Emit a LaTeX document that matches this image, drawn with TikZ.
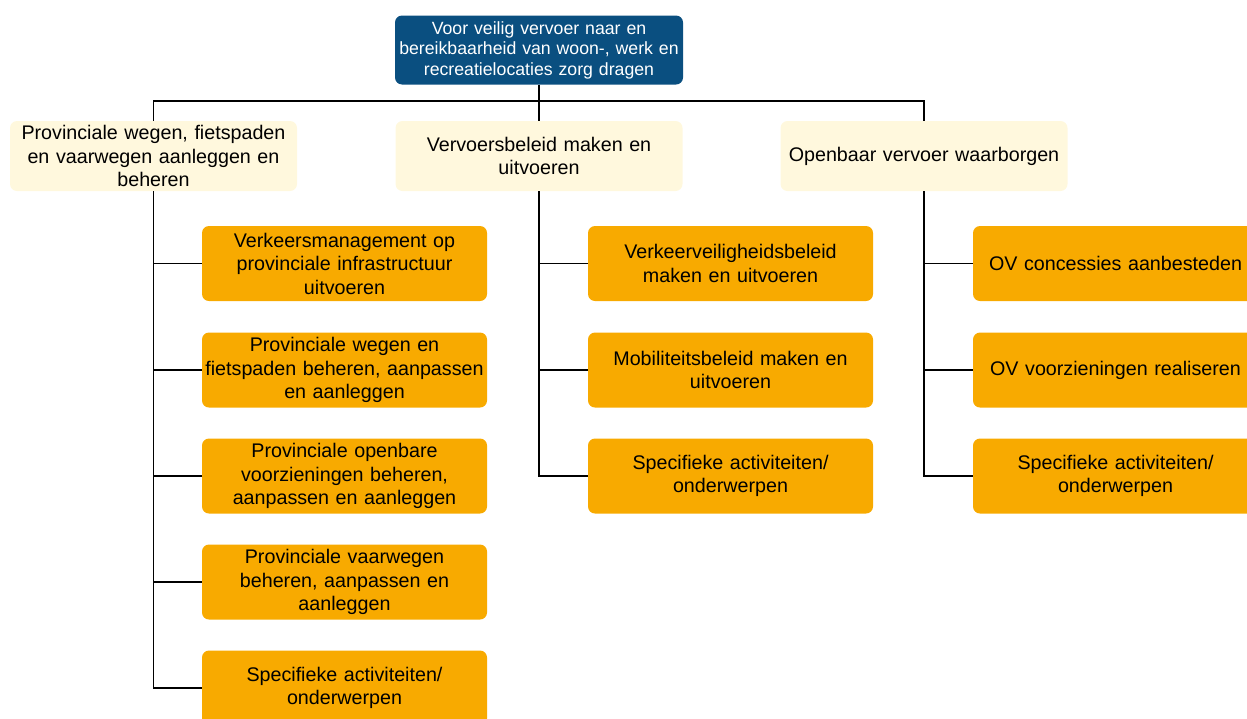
\documentclass[tikz,border=0pt]{standalone}
\usepackage{fontspec}
\setmainfont{Liberation Sans}
\usepackage{xcolor}
\definecolor{goalblue}{RGB}{10,79,128}
\definecolor{taskcream}{RGB}{255,248,221}
\definecolor{activityorange}{RGB}{248,170,0}

\begin{document}
\begin{tikzpicture}[x=1pt,y=-1pt]
          \tikzstyle{every node}=[rounded corners=7pt, align=center, inner sep=0pt]
          \tikzstyle{goal}=[fill=goalblue, text=white, text width=288pt, minimum height=69pt, font=\fontsize{17.7}{20.5}\selectfont]
          \tikzstyle{task}=[fill=taskcream, text width=287pt, minimum height=70pt, font=\fontsize{19.7}{23.5}\selectfont]
          \tikzstyle{activity}=[fill=activityorange, text width=285pt, minimum height=75pt, font=\fontsize{19.7}{23.5}\selectfont]
          \tikzstyle{treeline}=[line width=1.7pt, black]
          \useasboundingbox (0,0) rectangle (1247,718);

          % top goal and the three tasks
          \node[goal] (Root) at (539,50) {Voor veilig vervoer naar en\\bereikbaarheid van woon-, werk en\\recreatielocaties zorg dragen};
          \node[task] (Roads) at (153.5,156) {Provinciale wegen, fietspaden\\en vaarwegen aanleggen en\\beheren};
          \node[task] (Policy) at (539,156) {Vervoersbeleid maken en\\uitvoeren};
          \node[task] (Transit) at (924,156) {Openbaar vervoer waarborgen};
          \coordinate (Bus) at (539,101);

          % activities under the roads task
          \node[activity] (RoadsA) at (344.5,263.5) {Verkeersmanagement op\\provinciale infrastructuur\\uitvoeren};
          \node[activity] (RoadsB) at (344.5,370) {Provinciale wegen en\\fietspaden beheren, aanpassen\\en aanleggen};
          \node[activity] (RoadsC) at (344.5,476) {Provinciale openbare\\voorzieningen beheren,\\aanpassen en aanleggen};
          \node[activity] (RoadsD) at (344.5,582) {Provinciale vaarwegen\\beheren, aanpassen en\\aanleggen};
          \node[activity] (RoadsE) at (344.5,688) {Specifieke activiteiten/\\onderwerpen};

          % activities under the policy task
          \node[activity] (PolicyA) at (730.5,263.5) {Verkeerveiligheidsbeleid\\maken en uitvoeren};
          \node[activity] (PolicyB) at (730.5,370) {Mobiliteitsbeleid maken en\\uitvoeren};
          \node[activity] (PolicyC) at (730.5,476) {Specifieke activiteiten/\\onderwerpen};

          % activities under the transit task
          \node[activity] (TransitA) at (1115.5,263.5) {OV concessies aanbesteden};
          \node[activity] (TransitB) at (1115.5,370) {OV voorzieningen realiseren};
          \node[activity] (TransitC) at (1115.5,476) {Specifieke activiteiten/\\onderwerpen};

          % connectors
          \draw[treeline] (Root) -- (Policy);
          \draw[treeline] (Roads.north) |- (Bus) -| (Transit.north);
          \draw[treeline] (Roads.south) |- (RoadsE.west);
          \draw[treeline] (Roads.south |- RoadsA.west) -- (RoadsA.west);
          \draw[treeline] (Roads.south |- RoadsB.west) -- (RoadsB.west);
          \draw[treeline] (Roads.south |- RoadsC.west) -- (RoadsC.west);
          \draw[treeline] (Roads.south |- RoadsD.west) -- (RoadsD.west);
          \draw[treeline] (Policy.south) |- (PolicyC.west);
          \draw[treeline] (Policy.south |- PolicyA.west) -- (PolicyA.west);
          \draw[treeline] (Policy.south |- PolicyB.west) -- (PolicyB.west);
          \draw[treeline] (Transit.south) |- (TransitC.west);
          \draw[treeline] (Transit.south |- TransitA.west) -- (TransitA.west);
          \draw[treeline] (Transit.south |- TransitB.west) -- (TransitB.west);
        \end{tikzpicture}
\end{document}
